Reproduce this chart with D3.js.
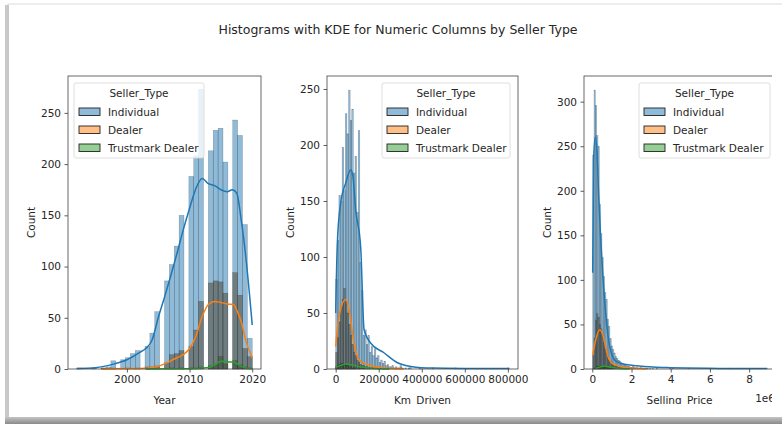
<!DOCTYPE html>
<html>
<head>
<meta charset="utf-8">
<script src="https://cdn.jsdelivr.net/npm/d3@7"></script>
<style>
  body { margin: 0; background: #fff; }
  text { font-family: "DejaVu Sans", sans-serif; fill: #262626; }
</style>
</head>
<body>
<svg id="chart" width="782" height="424"></svg>
<script>
const sellerTypes = ["Individual", "Dealer", "Trustmark Dealer"]
const lineColors = ["#1f77b4", "#ff7f0e", "#2ca02c"]
const patchColors = ["rgba(31,119,180,0.5)", "rgba(255,127,14,0.5)", "rgba(44,160,44,0.5)"]
const barColors = ["rgba(31,119,180,0.5)", "rgba(96,97,90,0.7)", "rgba(70,90,70,0.75)"]

// Year: counts per model year
const years = d3.range(1992, 2021)
const yearIndividual = [1,0,0,1,1,2,8,9,11,15,18,22,35,56,86,102,120,150,188,208,273,213,233,235,202,243,228,141,30]
const yearDealer = [0,0,0,0,1,0,1,0,1,0,1,2,2,3,6,14,15,18,22,38,66,84,86,85,74,94,72,20,12]
const yearTrust = [0,0,0,0,0,0,0,0,0,0,0,1,0,0,0,1,0,1,1,1,2,3,4,12,5,8,4,2,1]
const kdeYearIndividual = [[1992,0.6],[1995,1.3],[1998,5],[2000,9],[2002,16],[2003,20],[2004,28],[2005,50],[2006,70],[2007,91],[2008,113],[2009,136],[2010,157],[2011,176],[2012,186],[2013,181],[2014,179],[2015,175],[2016,173],[2016.8,175],[2017.5,172],[2018.3,143],[2019,108],[2020,43]]
const kdeYearDealer = [[1996,0.1],[2000,0.4],[2003,0.8],[2005,2.6],[2006,5],[2007,8],[2008,11],[2009,14],[2010,20],[2011,32],[2012,51],[2013,63],[2014,66],[2015,65],[2016,63.5],[2017,63],[2017.7,55],[2018.3,45],[2019,27],[2020,11]]
const kdeYearTrust = [[2003,0.1],[2008,0.3],[2011,0.6],[2013,1.5],[2014,4],[2015,7.5],[2016,7],[2017,6.8],[2018,3.5],[2019,1],[2020,0.3]]

// Km_Driven: counts per bin (bin width 7470 km from 1 km)
const kmIndividual = [80,115,155,150,198,160,228,210,249,222,232,175,190,140,213,95,70,30,35,22,30,15,20,12,18,10,12,6,8,5,7,3,4,2,2,3,1,2,1,1,3,1,0,1,0,1,2,0]
const kmIndividualTail = [[52,1],[60,1],[74,1],[107,1]]
const kmDealer = [15,28,42,55,62,72,60,50,40,30,22,15,12,8,6,4,3,3,2,2,1,1,1,1,0,1,0,1,0,0,0,0,1,0,0,0,0,0,0,0,1]
const kmTrust = [2,3,4,5,5,4,3,3,2,2,1,1,1,0,1,0,0,1,0,0,1]
const kdeKmIndividual = [[1,50],[7600,112],[23000,148],[46600,166],[70000,178],[80000,172],[93000,142],[116000,109],[132000,35],[163000,23],[224000,14.5],[287000,5.6],[350000,2.3],[450000,0.8],[600000,0.5],[806000,0.4]]
const kdeKmDealer = [[1,20],[15500,47],[46600,62],[62000,53],[85000,23],[108000,8],[147000,4],[194000,1.5],[250000,0.6],[317000,0.2]]
const kdeKmTrust = [[1,1.5],[20000,3],[50000,4.5],[80000,3.5],[110000,2],[150000,1],[200000,0.3],[250000,0.1]]

// Selling_Price: counts per bin (bin width 67500 from 20000)
const priceIndividual = [240,313,296,262,250,185,152,125,104,86,78,56,48,34,26,22,18,14,12,10,9,7,6,5,4,4,3,3,2,2,3,2,1,2,1,1,2,1,1,1,1,1,0,1,0,1,0,0,1]
const priceIndividualTail = [[58,2],[60,1],[72,1],[88,1],[103,1],[110,1],[131,1]]
const priceDealer = [15,35,55,62,58,50,45,38,30,22,18,14,10,8,6,5,4,3,3,2,2,1,1,1,1,1,0,1,0,0,0,1,0,0,0,0,0,0,1]
const priceTrust = [0,1,2,3,3,3,2,2,3,2,2,1,1,1,1,0,1,0,0,1,0,0,0,1,0,0,0,0,1]
const kdePriceIndividual = [[20000,108],[66000,235],[150000,260],[235000,246],[320000,197],[420000,149],[540000,104],[680000,63],[800000,37],[970000,18],[1220000,8.6],[1740000,5],[2250000,3.7],[3100000,2.2],[3950000,1.5],[4800000,1.1],[6500000,0.7],[8900000,0.5]]
const kdePriceDealer = [[20000,16],[180000,33],[380000,44],[540000,38],[680000,25],[800000,14],[970000,7],[1220000,4],[1740000,1.5],[2250000,0.8],[2760000,0.3]]
const kdePriceTrust = [[150000,0.5],[350000,2],[600000,3],[850000,2.5],[1100000,1.5],[1500000,0.6],[1900000,0.2]]

// year counts -> 36 auto bins over 1992..2020
const yearBinW = 28 / 36
function yearBins(counts) {
  const out = []
  counts.forEach((n, i) => {
    if (!n) return
    const k = Math.min(35, Math.floor((years[i] - 1992) / yearBinW + 1e-9))
    out.push({ x0: 1992 + k * yearBinW, x1: 1992 + (k + 1) * yearBinW, n: n })
  })
  return out
}
function indexBins(counts, start, w, tail) {
  const out = []
  counts.forEach((n, i) => { if (n) out.push({ x0: start + i * w, x1: start + (i + 1) * w, n: n }) })
  ;(tail || []).forEach(([i, n]) => out.push({ x0: start + i * w, x1: start + (i + 1) * w, n: n }))
  return out
}

const panels = [
  {
    left: 68, right: 261, xdom: [1990.6, 2021.4], ymax: 286,
    xticks: [2000, 2010, 2020], yticks: d3.range(0, 251, 50), fmt: d3.format("d"),
    xlabel: "Year", legendX: 74, legendW: 130,
    bins: [yearBins(yearIndividual), yearBins(yearDealer), yearBins(yearTrust)],
    kde: [kdeYearIndividual, kdeYearDealer, kdeYearTrust]
  },
  {
    left: 327, right: 518, xdom: [-40330, 846930], ymax: 261.6,
    xticks: d3.range(0, 800001, 200000), yticks: d3.range(0, 251, 50), fmt: d3.format("d"),
    xlabel: "Km_Driven", legendX: 382, legendW: 128,
    bins: [indexBins(kmIndividual, 1, 7470, kmIndividualTail), indexBins(kmDealer, 1, 7470), indexBins(kmTrust, 1, 7470)],
    kde: [kdeKmIndividual, kdeKmDealer, kdeKmTrust]
  },
  {
    left: 584, right: 775, xdom: [-424000, 9320000], ymax: 328.8,
    xticks: d3.range(0, 8000001, 2000000), yticks: d3.range(0, 301, 50), fmt: v => d3.format("d")(v / 1e6),
    xlabel: "Selling_Price", legendX: 639, legendW: 131, offset: "1e6",
    bins: [indexBins(priceIndividual, 20000, 67500, priceIndividualTail), indexBins(priceDealer, 20000, 67500), indexBins(priceTrust, 20000, 67500)],
    kde: [kdePriceIndividual, kdePriceDealer, kdePriceTrust]
  }
]

const plotTop = 76, plotBottom = 369
const svg = d3.select("#chart")

// card frame of the screenshot
const defs = svg.append("defs")
const grad = defs.append("linearGradient").attr("id", "btm").attr("x1", 0).attr("x2", 0).attr("y1", 0).attr("y2", 1)
grad.append("stop").attr("offset", 0).attr("stop-color", "#c4c4c4")
grad.append("stop").attr("offset", 1).attr("stop-color", "#8a8a8a")
defs.append("clipPath").attr("id", "fig").append("rect")
  .attr("x", 10).attr("y", 5).attr("width", 762).attr("height", 399)

svg.append("rect").attr("x", 8).attr("y", 4).attr("width", 790).attr("height", 414)
  .attr("fill", "#fff").attr("stroke", "#dcdcdc")
svg.append("rect").attr("x", 5).attr("y", 5).attr("width", 4).attr("height", 415).attr("fill", "#c9c9c9")
svg.append("rect").attr("x", 5).attr("y", 417).attr("width", 777).attr("height", 7).attr("fill", "url(#btm)")

const fig = svg.append("g").attr("clip-path", "url(#fig)")

fig.append("text")
  .attr("x", 398).attr("y", 34)
  .attr("text-anchor", "middle")
  .style("font-size", "12.5px")
  .text("Histograms with KDE for Numeric Columns by Seller Type")

panels.forEach(p => {
  const x = d3.scaleLinear().domain(p.xdom).range([p.left, p.right])
  const y = d3.scaleLinear().domain([0, p.ymax]).range([plotBottom, plotTop])
  const g = fig.append("g")

  // histograms, layered
  p.bins.forEach((bins, i) => {
    g.append("g").selectAll("rect")
      .data(bins)
      .join("rect")
      .attr("x", d => x(d.x0))
      .attr("y", d => y(d.n))
      .attr("width", d => Math.max(0.5, x(d.x1) - x(d.x0)))
      .attr("height", d => y(0) - y(d.n))
      .attr("fill", barColors[i])
      .attr("stroke", "rgba(0,0,0,0.3)")
      .attr("stroke-width", 0.5)
  })

  // KDE lines
  const line = d3.line().x(d => x(d[0])).y(d => y(d[1])).curve(d3.curveMonotoneX)
  p.kde.forEach((pts, i) => {
    g.append("path").datum(pts)
      .attr("d", line)
      .attr("fill", "none")
      .attr("stroke", lineColors[i])
      .attr("stroke-width", 1.5)
  })

  // axes
  const xAxis = g.append("g").attr("transform", `translate(0,${plotBottom})`)
    .call(d3.axisBottom(x).tickValues(p.xticks).tickFormat(p.fmt).tickSizeOuter(0).tickSize(3.5).tickPadding(3.5))
  const yAxis = g.append("g").attr("transform", `translate(${p.left},0)`)
    .call(d3.axisLeft(y).tickValues(p.yticks).tickSizeOuter(0).tickSize(3.5).tickPadding(3.5))
  ;[xAxis, yAxis].forEach(a => {
    a.select(".domain").remove()
    a.selectAll("line").attr("stroke", "#333").attr("stroke-width", 0.8)
    a.selectAll("text").style("font-size", "10.5px").attr("fill", "#262626")
  })

  g.append("rect")
    .attr("x", p.left).attr("y", plotTop)
    .attr("width", p.right - p.left).attr("height", plotBottom - plotTop)
    .attr("fill", "none").attr("stroke", "#444").attr("stroke-width", 0.8)

  g.append("text")
    .attr("x", (p.left + p.right) / 2).attr("y", 404)
    .attr("text-anchor", "middle")
    .style("font-size", "10.5px")
    .text(p.xlabel)
  g.append("text")
    .attr("transform", `translate(${p.left - 33},${(plotTop + plotBottom) / 2}) rotate(-90)`)
    .attr("text-anchor", "middle")
    .style("font-size", "10.5px")
    .text("Count")
  if (p.offset) {
    g.append("text")
      .attr("x", p.right).attr("y", 402)
      .attr("text-anchor", "end")
      .style("font-size", "10.5px")
      .text(p.offset)
  }

  // legend
  const lg = g.append("g").attr("transform", `translate(${p.legendX},83)`)
  lg.append("rect").attr("width", p.legendW).attr("height", 75).attr("rx", 2)
    .attr("fill", "rgba(255,255,255,0.8)").attr("stroke", "#d6d6d6").attr("stroke-width", 0.8)
  lg.append("text").attr("x", p.legendW / 2).attr("y", 14)
    .attr("text-anchor", "middle").style("font-size", "10.5px").text("Seller_Type")
  sellerTypes.forEach((s, i) => {
    const row = lg.append("g").attr("transform", `translate(5,${29 + i * 18})`)
    row.append("rect").attr("y", -4).attr("width", 21).attr("height", 7.5)
      .attr("fill", patchColors[i]).attr("stroke", "#222").attr("stroke-width", 0.9)
    row.append("text").attr("x", 29).attr("y", 4).style("font-size", "10.5px").text(s)
  })
})
</script>
</body>
</html>
